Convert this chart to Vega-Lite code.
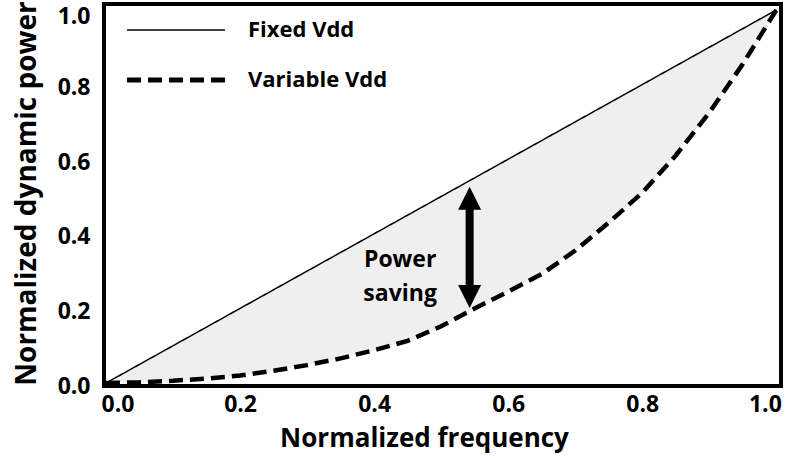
{
  "$schema": "https://vega.github.io/schema/vega-lite/v6.json",
  "autosize": "none",
  "width": 677,
  "height": 382,
  "padding": {"left": 104, "top": 4, "right": 8, "bottom": 72},
  "background": "white",
  "config": {
    "view": {"stroke": "black", "strokeWidth": 4},
    "font": "Open Sans",
    "axis": {
      "domain": false, "ticks": false, "grid": false,
      "labelFont": "Open Sans", "labelFontWeight": "bold", "labelFontSize": 23, "labelColor": "black",
      "titleFont": "Open Sans", "titleFontWeight": "bold", "titleFontSize": 26, "titleColor": "black"
    },
    "legend": {
      "orient": "top-left", "offset": 15, "padding": 0,
      "symbolType": "M-9.8,0H9.8", "symbolSize": 100, "symbolStrokeColor": "black",
      "symbolOffset": 46,
      "labelFont": "Open Sans", "labelFontWeight": "bold", "labelFontSize": 22, "labelColor": "black",
      "labelOffset": 61, "rowPadding": 28
    }
  },
  "datasets": {
    "curves": [
      {"f": 0.00, "fixed": 0.00, "variable": 0.000},
      {"f": 0.05, "fixed": 0.05, "variable": 0.002},
      {"f": 0.10, "fixed": 0.10, "variable": 0.006},
      {"f": 0.15, "fixed": 0.15, "variable": 0.012},
      {"f": 0.20, "fixed": 0.20, "variable": 0.020},
      {"f": 0.25, "fixed": 0.25, "variable": 0.033},
      {"f": 0.30, "fixed": 0.30, "variable": 0.048},
      {"f": 0.35, "fixed": 0.35, "variable": 0.066},
      {"f": 0.40, "fixed": 0.40, "variable": 0.088},
      {"f": 0.45, "fixed": 0.45, "variable": 0.113},
      {"f": 0.50, "fixed": 0.50, "variable": 0.152},
      {"f": 0.55, "fixed": 0.55, "variable": 0.200},
      {"f": 0.60, "fixed": 0.60, "variable": 0.245},
      {"f": 0.65, "fixed": 0.65, "variable": 0.292},
      {"f": 0.70, "fixed": 0.70, "variable": 0.355},
      {"f": 0.75, "fixed": 0.75, "variable": 0.430},
      {"f": 0.80, "fixed": 0.80, "variable": 0.510},
      {"f": 0.85, "fixed": 0.85, "variable": 0.610},
      {"f": 0.90, "fixed": 0.90, "variable": 0.725},
      {"f": 0.95, "fixed": 0.95, "variable": 0.855},
      {"f": 1.00, "fixed": 1.00, "variable": 1.000}
    ],
    "arrow": [
      {"f": 0.5425, "top": 0.495, "bottom": 0.232}
    ],
    "note": [
      {"f": 0.4388, "p": 0.33, "label": "Power\nsaving"}
    ]
  },
  "layer": [
    {
      "data": {"name": "curves"},
      "mark": {"type": "area", "color": "#efefef"},
      "encoding": {
        "x": {"field": "f", "type": "quantitative",
              "scale": {"domain": [-0.003, 1.007], "nice": false, "zero": false},
              "axis": {"values": [0, 0.2, 0.4, 0.6, 0.8, 1.0], "format": ".1f", "labelPadding": 7,
                       "labelFlush": 10, "labelFlushOffset": 5,
                       "title": "Normalized frequency", "titlePadding": 9, "titleX": 320}},
        "y": {"field": "fixed", "type": "quantitative",
              "scale": {"domain": [-0.008, 1.016], "nice": false, "zero": false},
              "axis": {"values": [0, 0.2, 0.4, 0.6, 0.8, 1.0], "format": ".1f", "labelPadding": 14,
                       "labelOffset": {"condition": {"test": "datum.value === 1", "value": 7}, "value": 3},
                       "title": "Normalized dynamic power", "titlePadding": 16, "titleFontSize": 28, "titleY": 189}},
        "y2": {"field": "variable"}
      }
    },
    {
      "data": {"name": "curves"},
      "transform": [{"fold": ["fixed", "variable"], "as": ["key", "p"]},
                    {"lookup": "key", "from": {"data": {"values": [{"key": "fixed", "series": "Fixed Vdd"}, {"key": "variable", "series": "Variable Vdd"}]}, "key": "key", "fields": ["series"]}}],
      "mark": {"type": "line", "color": "black"},
      "encoding": {
        "x": {"field": "f", "type": "quantitative"},
        "y": {"field": "p", "type": "quantitative"},
        "strokeDash": {"field": "series", "type": "nominal",
                       "scale": {"domain": ["Fixed Vdd", "Variable Vdd"], "range": [[1, 0], [14, 7]]},
                       "legend": {"title": null,
                                  "encode": {"symbols": {"update": {"strokeWidth": {"signal": "(datum.value === 'Fixed Vdd' ? 1.5 : 5)"},
                                                                    "strokeDash": {"signal": "(datum.value === 'Fixed Vdd' ? [1,0] : [13,9])"}}}}}},
        "strokeWidth": {"condition": {"test": "datum.series === 'Fixed Vdd'", "value": 1.5}, "value": 4.5}
      }
    },
    {
      "data": {"name": "arrow"},
      "mark": {"type": "rule", "color": "black", "strokeWidth": 8},
      "encoding": {
        "x": {"field": "f", "type": "quantitative"},
        "y": {"field": "top", "type": "quantitative"},
        "y2": {"field": "bottom"}
      }
    },
    {
      "data": {"name": "arrow"},
      "mark": {"type": "point", "shape": "M0,-1L1,1L-1,1Z", "filled": true, "color": "black", "opacity": 1, "size": 529},
      "encoding": {
        "x": {"field": "f", "type": "quantitative"},
        "y": {"field": "top", "type": "quantitative"}
      }
    },
    {
      "data": {"name": "arrow"},
      "mark": {"type": "point", "shape": "M0,1L1,-1L-1,-1Z", "filled": true, "color": "black", "opacity": 1, "size": 529},
      "encoding": {
        "x": {"field": "f", "type": "quantitative"},
        "y": {"field": "bottom", "type": "quantitative"}
      }
    },
    {
      "data": {"name": "note"},
      "mark": {"type": "text", "font": "Open Sans", "fontWeight": "bold", "fontSize": 23, "lineBreak": "\n", "lineHeight": 34, "align": "center", "baseline": "middle", "color": "black"},
      "encoding": {
        "x": {"field": "f", "type": "quantitative"},
        "y": {"field": "p", "type": "quantitative"},
        "text": {"field": "label"}
      }
    }
  ]
}
